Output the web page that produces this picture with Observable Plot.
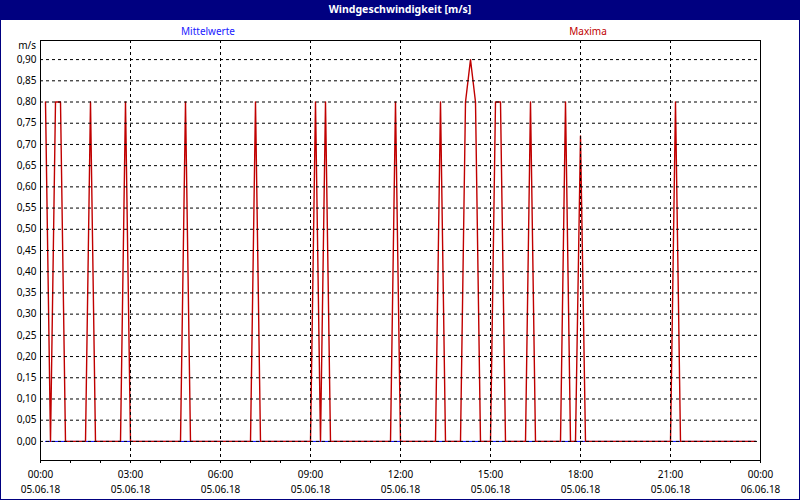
<!DOCTYPE html>
<html>
<head>
<meta charset="utf-8">
<script src="https://cdn.jsdelivr.net/npm/d3@7"></script>
<script src="https://cdn.jsdelivr.net/npm/@observablehq/plot@0.6"></script>
<style>
html, body { margin: 0; padding: 0; background: #fff; }
#wrap { position: relative; width: 800px; height: 500px; overflow: hidden; font-family: "Noto Sans", "DejaVu Sans", sans-serif; background: #fff; }
#chart { position: absolute; left: 0; top: 0; }
#border { position: absolute; left: 0; top: 0; width: 800px; height: 500px; box-sizing: border-box; border: 1px solid #000080; pointer-events: none; z-index: 3; }
#title { position: absolute; left: 0; top: 0; width: 800px; height: 20px; background: #000080; color: #fff; font-weight: bold; font-size: 10.5px; line-height: 19px; text-align: center; z-index: 2; }
.leg { position: absolute; top: 24px; font-size: 10px; line-height: 14px; transform: translateX(-50%); white-space: nowrap; z-index: 2; }
#unit { position: absolute; left: 0; width: 36px; text-align: right; top: 38px; font-size: 10px; line-height: 14px; color: #000; z-index: 2; }
</style>
</head>
<body>
<div id="wrap">
  <div id="chart"></div>
  <div id="title"></div>
  <div id="leg0" class="leg" style="left:208px;color:#2020ff;"></div>
  <div id="leg1" class="leg" style="left:588px;color:#c00000;"></div>
  <div id="unit"></div>
  <div id="border"></div>
</div>
<script>
// ---- data ----
const chartTitle = "Windgeschwindigkeit [m/s]";
const unitLabel = "m/s";
const seriesNames = ["Mittelwerte", "Maxima"];
const seriesColors = ["#0000ff", "#c00000"];

// Maxima (10-minute values, 05.06.18)
const maxTimes = ["00:10","00:20","00:30","00:40","00:50","01:30","01:40","01:50","02:40","02:50","03:00",
  "04:40","04:50","05:00","07:00","07:10","07:20","09:00","09:10","09:20","09:30","09:40",
  "11:40","11:50","12:00","13:10","13:20","13:30","14:00","14:10","14:20","14:30","14:40",
  "15:00","15:10","15:20","15:30","16:10","16:20","16:30","17:20","17:30","17:40","17:50","18:00","18:10",
  "21:00","21:10","21:20","23:50"];
const maxValues = [0.80,0,0.80,0.80,0,0,0.80,0,0,0.80,0,
  0,0.80,0,0,0.80,0,0,0.80,0,0.80,0,
  0,0.80,0,0,0.80,0,0,0.80,0.90,0.80,0,
  0,0.80,0.80,0,0,0.80,0,0,0.80,0,0,0.72,0,
  0,0.80,0,0];

// Mittelwerte
const meanTimes = ["00:10","23:50"];
const meanValues = [0, 0];

const yTicks = [0,0.05,0.10,0.15,0.20,0.25,0.30,0.35,0.40,0.45,0.50,0.55,0.60,0.65,0.70,0.75,0.80,0.85,0.90];
const xTickTimes = ["00:00","03:00","06:00","09:00","12:00","15:00","18:00","21:00","24:00"];
const xTickLabels = ["00:00\n05.06.18","03:00\n05.06.18","06:00\n05.06.18","09:00\n05.06.18","12:00\n05.06.18",
  "15:00\n05.06.18","18:00\n05.06.18","21:00\n05.06.18","00:00\n06.06.18"];

// ---- build ----
const day0 = Date.UTC(2018, 5, 5);
const toDate = s => { const [h, m] = s.split(":").map(Number); return new Date(day0 + (h * 60 + m) * 60000); };
const maxData = maxTimes.map((t, i) => ({t: toDate(t), v: maxValues[i]}));
const meanData = meanTimes.map((t, i) => ({t: toDate(t), v: meanValues[i]}));
const xTickDates = xTickTimes.map(toDate);
const hourDates = d3.utcHour.range(xTickDates[0], new Date(+xTickDates[xTickDates.length - 1] + 1));
const fmtY = d => d3.format(".2f")(d).replace(".", ",");

document.getElementById("title").textContent = chartTitle;
document.getElementById("leg0").textContent = seriesNames[0];
document.getElementById("leg1").textContent = seriesNames[1];
document.getElementById("unit").textContent = unitLabel;

const chart = Plot.plot({
  width: 800, height: 500,
  marginLeft: 40, marginRight: 40, marginTop: 40, marginBottom: 40,
  style: {background: "transparent", fontFamily: "'Noto Sans', sans-serif", fontSize: "10px", color: "#000"},
  x: {type: "utc", domain: [xTickDates[0], xTickDates[xTickDates.length - 1]], axis: null},
  y: {domain: [-0.045, 0.945], axis: null},
  marks: [
    Plot.lineY(meanData, {x: "t", y: "v", stroke: seriesColors[0], strokeWidth: 1}),
    Plot.lineY(maxData, {x: "t", y: "v", stroke: seriesColors[1], strokeWidth: 1.4}),
    Plot.gridY({ticks: yTicks, stroke: "#000", strokeOpacity: 1, strokeDasharray: "3,3"}),
    Plot.gridX({ticks: xTickDates.slice(1, -1), stroke: "#000", strokeOpacity: 1, strokeDasharray: "3,3"}),
    Plot.frame({stroke: "#000"}),
    Plot.axisY({ticks: yTicks, tickSize: 0, tickPadding: 4, tickFormat: fmtY, label: null, fill: "#000"}),
    Plot.axisX({ticks: hourDates, tickSize: 3, tickFormat: () => "", label: null, stroke: "#000"}),
    Plot.text(xTickDates, {x: d => d, frameAnchor: "bottom", text: (d, i) => xTickLabels[i],
      lineAnchor: "top", dy: 7, lineHeight: 1.5, fill: "#000"})
  ]
});
document.getElementById("chart").appendChild(chart);
</script>
</body>
</html>
